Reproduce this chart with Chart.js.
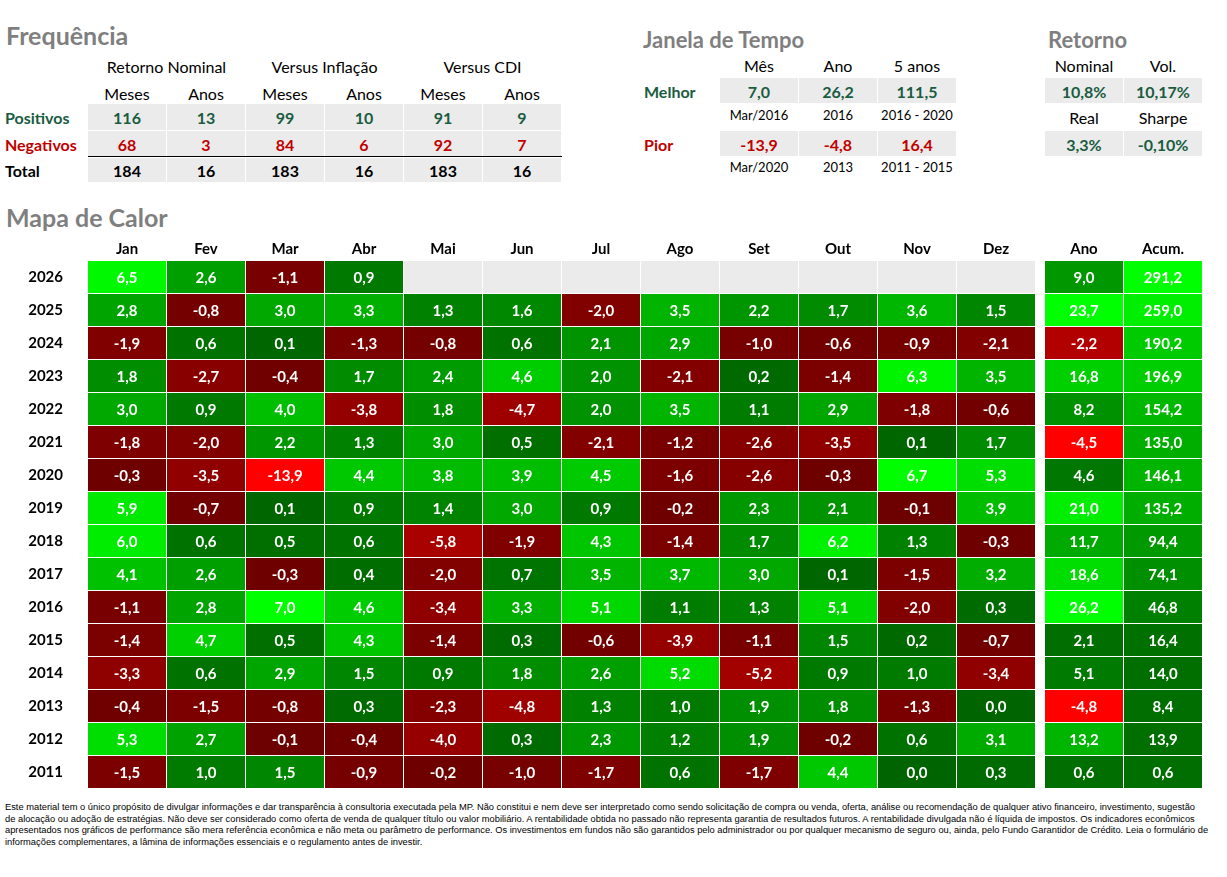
<!DOCTYPE html>
<html><head><meta charset="utf-8">
<script src="https://cdn.jsdelivr.net/npm/chart.js@4.4.1/dist/chart.umd.min.js"></script>
<style>
html,body{margin:0;padding:0;background:#fff;}
body{width:1227px;height:877px;position:relative;overflow:hidden;font-family:Lato,'Open Sans',sans-serif;}
.t{position:absolute;white-space:nowrap;line-height:1;}
.box{position:absolute;background:#EBEBEB;}
#wrap{position:absolute;left:0;top:230px;width:1227px;height:560px;}
#foot{position:absolute;left:5px;top:802px;font-family:'Liberation Sans',Arial,sans-serif;font-size:8.9px;color:#000;}
#foot div{white-space:nowrap;transform-origin:0 0;height:11.7px;line-height:11.7px;}
#foot span{display:inline-block;}
</style></head><body>
<div id="topblock"></div>
<div id="wrap"><canvas id="c"></canvas></div>
<div id="foot"></div>
<script>
// ---------------- DATA ----------------
const months = ['Jan','Fev','Mar','Abr','Mai','Jun','Jul','Ago','Set','Out','Nov','Dez'];
const summaryCols = ['Ano','Acum.'];
const years = ['2026','2025','2024','2023','2022','2021','2020','2019','2018','2017','2016','2015','2014','2013','2012','2011'];
const ret2026 = [6.5, 2.6, -1.1, 0.9, null, null, null, null, null, null, null, null];
const ret2025 = [2.8, -0.8, 3.0, 3.3, 1.3, 1.6, -2.0, 3.5, 2.2, 1.7, 3.6, 1.5];
const ret2024 = [-1.9, 0.6, 0.1, -1.3, -0.8, 0.6, 2.1, 2.9, -1.0, -0.6, -0.9, -2.1];
const ret2023 = [1.8, -2.7, -0.4, 1.7, 2.4, 4.6, 2.0, -2.1, 0.2, -1.4, 6.3, 3.5];
const ret2022 = [3.0, 0.9, 4.0, -3.8, 1.8, -4.7, 2.0, 3.5, 1.1, 2.9, -1.8, -0.6];
const ret2021 = [-1.8, -2.0, 2.2, 1.3, 3.0, 0.5, -2.1, -1.2, -2.6, -3.5, 0.1, 1.7];
const ret2020 = [-0.3, -3.5, -13.9, 4.4, 3.8, 3.9, 4.5, -1.6, -2.6, -0.3, 6.7, 5.3];
const ret2019 = [5.9, -0.7, 0.1, 0.9, 1.4, 3.0, 0.9, -0.2, 2.3, 2.1, -0.1, 3.9];
const ret2018 = [6.0, 0.6, 0.5, 0.6, -5.8, -1.9, 4.3, -1.4, 1.7, 6.2, 1.3, -0.3];
const ret2017 = [4.1, 2.6, -0.3, 0.4, -2.0, 0.7, 3.5, 3.7, 3.0, 0.1, -1.5, 3.2];
const ret2016 = [-1.1, 2.8, 7.0, 4.6, -3.4, 3.3, 5.1, 1.1, 1.3, 5.1, -2.0, 0.3];
const ret2015 = [-1.4, 4.7, 0.5, 4.3, -1.4, 0.3, -0.6, -3.9, -1.1, 1.5, 0.2, -0.7];
const ret2014 = [-3.3, 0.6, 2.9, 1.5, 0.9, 1.8, 2.6, 5.2, -5.2, 0.9, 1.0, -3.4];
const ret2013 = [-0.4, -1.5, -0.8, 0.3, -2.3, -4.8, 1.3, 1.0, 1.9, 1.8, -1.3, 0.0];
const ret2012 = [5.3, 2.7, -0.1, -0.4, -4.0, 0.3, 2.3, 1.2, 1.9, -0.2, 0.6, 3.1];
const ret2011 = [-1.5, 1.0, 1.5, -0.9, -0.2, -1.0, -1.7, 0.6, -1.7, 4.4, 0.0, 0.3];
const monthly = [ret2026, ret2025, ret2024, ret2023, ret2022, ret2021, ret2020, ret2019, ret2018, ret2017, ret2016, ret2015, ret2014, ret2013, ret2012, ret2011];
const anoRet = [9.0, 23.7, -2.2, 16.8, 8.2, -4.5, 4.6, 21.0, 11.7, 18.6, 26.2, 2.1, 5.1, -4.8, 13.2, 0.6];
const acumRet = [291.2, 259.0, 190.2, 196.9, 154.2, 135.0, 146.1, 135.2, 94.4, 74.1, 46.8, 16.4, 14.0, 8.4, 13.9, 0.6];

const freqGroups = ['Retorno Nominal', 'Versus Inflação', 'Versus CDI'];
const freqSub = ['Meses', 'Anos', 'Meses', 'Anos', 'Meses', 'Anos'];
const freqRows = ['Positivos', 'Negativos', 'Total'];
const freqPos = [116, 13, 99, 10, 91, 9];
const freqNeg = [68, 3, 84, 6, 92, 7];
const freqTotal = [184, 16, 183, 16, 183, 16];

const janelaHead = ['Mês', 'Ano', '5 anos'];
const melhorVals = ['7,0', '26,2', '111,5'];
const melhorRef = ['Mar/2016', '2016', '2016 - 2020'];
const piorVals = ['-13,9', '-4,8', '16,4'];
const piorRef = ['Mar/2020', '2013', '2011 - 2015'];

const retHead1 = ['Nominal', 'Vol.'];
const retVals1 = ['10,8%', '10,17%'];
const retHead2 = ['Real', 'Sharpe'];
const retVals2 = ['3,3%', '-0,10%'];

const footLines = [
 'Este material tem o único propósito de divulgar informações e dar transparência à consultoria executada pela MP. Não constitui e nem deve ser interpretado como sendo solicitação de compra ou venda, oferta, análise ou recomendação de qualquer ativo financeiro, investimento, sugestão',
 'de alocação ou adoção de estratégias. Não deve ser considerado como oferta de venda de qualquer título ou valor mobiliário. A rentabilidade obtida no passado não representa garantia de resultados futuros. A rentabilidade divulgada não é líquida de impostos. Os indicadores econômicos',
 'apresentados nos gráficos de performance são mera referência econômica e não meta ou parâmetro de performance. Os investimentos em fundos não são garantidos pelo administrador ou por qualquer mecanismo de seguro ou, ainda, pelo Fundo Garantidor de Crédito. Leia o formulário de',
 'informações complementares, a lâmina de informações essenciais e o regulamento antes de investir.'
];

// ---------------- LAYOUT HELPERS ----------------
const GREEN = '#1A5C40', RED = '#C00000', GREY = '#7F7F7F';
const topEl = document.getElementById('topblock');
function colX(i){ return 88 + 79*i; }
function box(x, y, w, h, bg){
  const d = document.createElement('div'); d.className='box';
  d.style.cssText = `left:${x}px;top:${y}px;width:${w}px;height:${h}px;` + (bg?`background:${bg};`:'');
  topEl.appendChild(d);
}
function txt(s, x, cy, fs, opts={}){
  const d = document.createElement('div'); d.className='t'; d.textContent = s;
  d.style.fontSize = fs+'px';
  d.style.top = (cy - fs*0.53) + 'px';
  d.style.fontWeight = opts.bold ? '700' : '400';
  d.style.color = opts.color || '#000';
  d.style.left = x+'px';
  if (opts.align !== 'left') d.style.transform='translateX(-50%)';
  topEl.appendChild(d);
}

// Titles
txt('Frequência', 6, 36.7, 25, {bold:true, color:GREY, align:'left'});
txt('Mapa de Calor', 6, 218.7, 25, {bold:true, color:GREY, align:'left'});
txt('Janela de Tempo', 643, 40.3, 22, {bold:true, color:GREY, align:'left'});
txt('Retorno', 1048, 40.3, 22, {bold:true, color:GREY, align:'left'});

// Frequência table
freqGroups.forEach((g, i)=> txt(g, colX(2*i)+78.5, 67.5, 16));
freqSub.forEach((s, i)=> txt(s, colX(i)+39, 94, 16));
const freqRowBoxes = [[104,26],[131,25],[158,24]];
const freqRowCy = [118.5, 145, 171];
const freqRowColor = [GREEN, RED, '#000'];
[freqPos, freqNeg, freqTotal].forEach((arr, r)=>{
  txt(freqRows[r], 5, freqRowCy[r], 16, {bold:true, color:freqRowColor[r], align:'left'});
  arr.forEach((v, i)=>{
    box(colX(i), freqRowBoxes[r][0], 78, freqRowBoxes[r][1]);
    txt(String(v), colX(i)+39, freqRowCy[r], 16, {bold:true, color:freqRowColor[r]});
  });
});
box(88, 156, 474, 1, '#000');

// Janela de Tempo
janelaHead.forEach((h, i)=> txt(h, colX(8+i)+39, 66.7, 16));
txt('Melhor', 644, 92.5, 16, {bold:true, color:GREEN, align:'left'});
txt('Pior', 644, 145, 16, {bold:true, color:RED, align:'left'});
melhorVals.forEach((v, i)=>{ box(colX(8+i), 78, 78, 25); txt(v, colX(8+i)+39, 92.5, 16, {bold:true, color:GREEN}); });
melhorRef.forEach((v, i)=> txt(v, colX(8+i)+39, 115.5, 13));
piorVals.forEach((v, i)=>{ box(colX(8+i), 131, 78, 25); txt(v, colX(8+i)+39, 145, 16, {bold:true, color:RED}); });
piorRef.forEach((v, i)=> txt(v, colX(8+i)+39, 167.5, 13));

// Retorno
const retX = [1045, 1124];
retHead1.forEach((h, i)=> txt(h, retX[i]+39, 66.7, 16));
retVals1.forEach((v, i)=>{ box(retX[i], 78, 78, 25); txt(v, retX[i]+39, 92.5, 16, {bold:true, color:GREEN}); });
retHead2.forEach((h, i)=> txt(h, retX[i]+39, 118.7, 16));
retVals2.forEach((v, i)=>{ box(retX[i], 131, 78, 25); txt(v, retX[i]+39, 145, 16, {bold:true, color:GREEN}); });

// Footer
const foot = document.getElementById('foot');
const spans = footLines.map(l=>{ const d=document.createElement('div'); const s=document.createElement('span'); s.textContent=l; d.appendChild(s); foot.appendChild(d); return s; });
const fscale = 1190 / spans[0].getBoundingClientRect().width;
spans.forEach(s=> s.parentNode.style.transform = `scaleX(${fscale})`);

// ---------------- HEATMAP ----------------
function clamp(v, a, b){ return Math.max(a, Math.min(b, v)); }
function monthColor(v){
  if (v === null) return '#EBEBEB';
  if (v >= 0) return `rgb(0,${Math.round(clamp(100 + 155*v/6.8, 100, 255))},0)`;
  return `rgb(${Math.round(clamp(108 + 147*(-v)/13.9, 108, 255))},0,0)`;
}
function anoColor(v){
  if (v >= 0) return `rgb(0,${Math.round(clamp(85 + 7.3*v, 110, 255))},0)`;
  return `rgb(${Math.round(clamp(101 + 35*(-v), 108, 255))},0,0)`;
}
function acumColor(v){
  return `rgb(0,${Math.round(clamp(104 + 0.52*v, 110, 255))},0)`;
}
const allCols = months.concat(summaryCols);
const colStart = allCols.map((c, i)=> i < 12 ? i : 12.1139 + (i-12));
const COLW = 78/79;
const colCenters = colStart.map(s=> s + COLW/2);
function fmt(v){ return v.toFixed(1).replace('.', ','); }

const datasets = allCols.map((name, c)=>{
  const vals = c < 12 ? monthly.map(r=> r[c]) : (c === 12 ? anoRet : acumRet);
  const colorFn = c < 12 ? monthColor : (c === 12 ? anoColor : acumColor);
  return {
    label: name,
    data: years.map(()=> [colStart[c], colStart[c] + COLW]),
    values: vals,
    backgroundColor: vals.map(colorFn),
    borderWidth: 0,
    inflateAmount: 0,
    grouped: false,
    barPercentage: 1,
    categoryPercentage: 32/33
  };
});

const cellText = {
  id: 'cellText',
  afterDatasetsDraw(chart){
    const ctx = chart.ctx;
    ctx.save();
    ctx.font = 'bold 15px Lato';
    ctx.fillStyle = '#FFFFFF';
    ctx.textAlign = 'center';
    ctx.textBaseline = 'middle';
    chart.data.datasets.forEach((ds, di)=>{
      chart.getDatasetMeta(di).data.forEach((el, i)=>{
        const v = ds.values[i];
        if (v === null || v === undefined) return;
        ctx.fillText(fmt(v), (el.x + el.base)/2, el.y + 1);
      });
    });
    ctx.restore();
  }
};

function noPad(scale){ scale.paddingTop = 0; scale.paddingBottom = 0; scale.paddingLeft = 0; scale.paddingRight = 0; }

new Chart(document.getElementById('c'), {
  type: 'bar',
  data: { labels: years, datasets },
  options: {
    indexAxis: 'y',
    responsive: true,
    maintainAspectRatio: false,
    animation: false,
    layout: { padding: { top: 0, right: 25, left: 0, bottom: 1.5 } },
    plugins: { legend: { display: false }, tooltip: { enabled: false } },
    scales: {
      x: {
        type: 'linear', position: 'top', min: 0, max: 14.1013,
        grid: { display: false, drawTicks: false }, border: { display: false },
        afterBuildTicks(scale){ scale.ticks = colCenters.map(v=> ({ value: v })); },
        afterFit(scale){ scale.height = 30.5; noPad(scale); },
        ticks: {
          autoSkip: false, maxRotation: 0, padding: 2,
          font: { family: 'Lato', size: 15, weight: 'bold' }, color: '#000',
          callback: (v, i)=> allCols[i]
        }
      },
      y: {
        type: 'category',
        grid: { display: false, drawTicks: false }, border: { display: false },
        afterFit(scale){ scale.width = 88; noPad(scale); },
        ticks: { padding: 25, font: { family: 'Lato', size: 15, weight: 'bold' }, color: '#000' }
      }
    }
  },
  plugins: [cellText]
});
</script>
</body></html>
